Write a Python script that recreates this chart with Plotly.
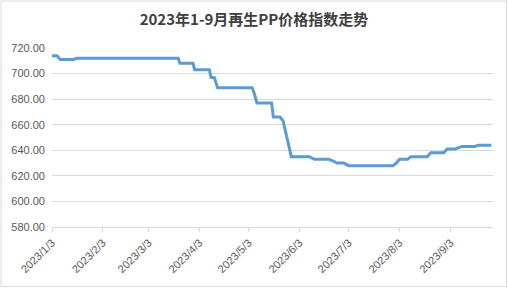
import plotly.graph_objects as go

dates = ["2023-01-03", "2023-01-06", "2023-01-08", "2023-01-16", "2023-01-18",
         "2023-03-21", "2023-03-22", "2023-03-30", "2023-03-31", "2023-04-09",
         "2023-04-10", "2023-04-12", "2023-04-14", "2023-05-05", "2023-05-06",
         "2023-05-08", "2023-05-17", "2023-05-18", "2023-05-22", "2023-05-24",
         "2023-05-25", "2023-05-29", "2023-06-09", "2023-06-12", "2023-06-21",
         "2023-06-26", "2023-06-30", "2023-07-03", "2023-07-30", "2023-08-01",
         "2023-08-03", "2023-08-08", "2023-08-10", "2023-08-20", "2023-08-22",
         "2023-08-30", "2023-09-01", "2023-09-06", "2023-09-10", "2023-09-18",
         "2023-09-20", "2023-09-28"]
values = [714, 714, 711, 711, 712,
          712, 708, 708, 703, 703,
          697, 697, 689, 689, 686,
          677, 677, 666, 666, 663,
          657, 635, 635, 633, 633,
          630, 630, 628, 628, 630,
          633, 633, 635, 635, 638,
          638, 641, 641, 643, 643,
          644, 644]

tick_dates = ["2023-01-03", "2023-02-03", "2023-03-03", "2023-04-03", "2023-05-03",
              "2023-06-03", "2023-07-03", "2023-08-03", "2023-09-03"]
tick_labels = ["2023/1/3", "2023/2/3", "2023/3/3", "2023/4/3", "2023/5/3",
               "2023/6/3", "2023/7/3", "2023/8/3", "2023/9/3"]
y_ticks = [580, 600, 620, 640, 660, 680, 700, 720]
title = "2023年1-9月再生PP价格指数走势"

fig = go.Figure()
fig.add_trace(go.Scatter(x=dates, y=values, mode="lines",
                         line=dict(color="#5b9bd5", width=3), hoverinfo="skip"))

L, R, T, B = 52, 15, 48, 62
W, H = 508, 289
pw, ph = W - L - R, H - T - B

fig.update_layout(
    width=W, height=H,
    margin=dict(l=L, r=R, t=T, b=B),
    paper_bgcolor="white", plot_bgcolor="white",
    showlegend=False,
    font=dict(family="Liberation Sans, Arial, sans-serif", color="#595959", size=11),
    title=dict(text=title, x=0.5, xanchor="center", y=1 - 20 / H, yanchor="middle",
               font=dict(family="Noto Sans CJK SC", size=15, color="#404040", weight="bold")),
    xaxis=dict(type="date", range=["2023-01-03", "2023-09-29"],
               tickvals=tick_dates, ticktext=tick_labels, tickangle=-45,
               showgrid=False, showline=True, linecolor="#d9d9d9", linewidth=1,
               ticks="outside", ticklen=4, tickcolor="#d9d9d9",
               tickfont=dict(size=11, color="#595959"), zeroline=False),
    yaxis=dict(range=[580, 720], tickvals=y_ticks,
               ticktext=[f"{v:.2f}" for v in y_ticks],
               showgrid=True, gridcolor="#d9d9d9", gridwidth=1,
               showline=False, zeroline=False, ticks="", ticklabelstandoff=6,
               tickfont=dict(size=11, color="#595959")),
)

fig.add_shape(type="rect", xref="paper", yref="paper",
              x0=(1 - L) / pw, x1=(506.5 - L) / pw,
              y0=(H - B - 286.5) / ph, y1=(H - B - 1) / ph,
              line=dict(color="#d9d9d9", width=1), fillcolor="rgba(0,0,0,0)", layer="below")

fig.write_html("out.html")
